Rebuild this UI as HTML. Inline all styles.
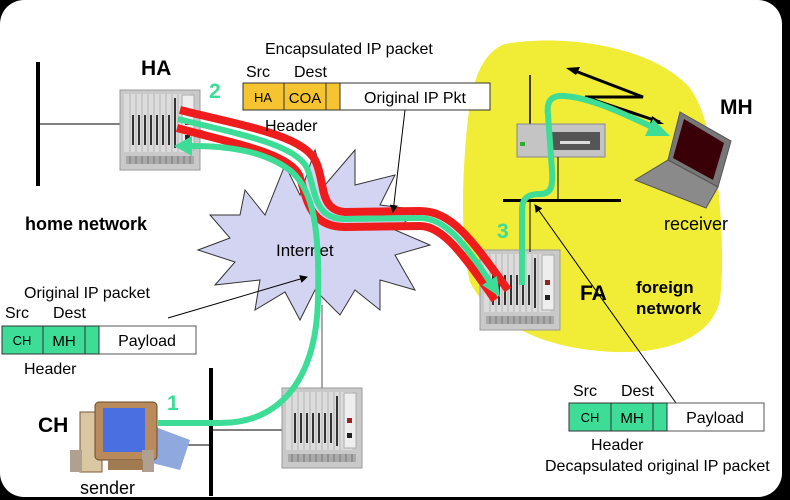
<!DOCTYPE html>
<html><head><meta charset="utf-8"><style>
html,body{margin:0;padding:0;background:#000;width:790px;height:500px;overflow:hidden}
svg{display:block}
text{font-family:"Liberation Sans",sans-serif}
</style></head><body>
<svg width="790" height="500" viewBox="0 0 790 500" xmlns="http://www.w3.org/2000/svg">
<defs>
<g id="rt">
<rect x="0" y="0" width="80" height="80" fill="#c9c9c9" stroke="#9a9a9a"/>
<rect x="4" y="4" width="66" height="58" fill="#dcdcdc"/>
<g stroke="#b5b5b5" stroke-width="1">
<line x1="10" y1="4" x2="10" y2="62"/><line x1="16" y1="4" x2="16" y2="62"/><line x1="22" y1="4" x2="22" y2="62"/><line x1="28" y1="4" x2="28" y2="62"/><line x1="34" y1="4" x2="34" y2="62"/><line x1="40" y1="4" x2="40" y2="62"/><line x1="46" y1="4" x2="46" y2="62"/><line x1="52" y1="4" x2="52" y2="62"/><line x1="58" y1="4" x2="58" y2="62"/>
</g>
<g stroke="#333" stroke-width="2">
<line x1="13" y1="25" x2="13" y2="55"/><line x1="19" y1="25" x2="19" y2="55"/><line x1="25" y1="25" x2="25" y2="55"/><line x1="31" y1="25" x2="31" y2="55"/><line x1="37" y1="25" x2="37" y2="55"/><line x1="43" y1="25" x2="43" y2="55"/><line x1="49" y1="25" x2="49" y2="55"/><line x1="55" y1="8" x2="55" y2="58"/>
</g>
<rect x="62" y="5" width="12" height="55" fill="#eee" stroke="#aaa"/>
<rect x="65" y="30" width="5" height="5" fill="#922"/>
<rect x="65" y="45" width="5" height="5" fill="#222"/>
<rect x="6" y="66" width="68" height="8" fill="#aaa"/>
<g stroke="#777"><line x1="10" y1="66" x2="10" y2="74"/><line x1="16" y1="66" x2="16" y2="74"/><line x1="22" y1="66" x2="22" y2="74"/><line x1="28" y1="66" x2="28" y2="74"/><line x1="34" y1="66" x2="34" y2="74"/><line x1="40" y1="66" x2="40" y2="74"/><line x1="46" y1="66" x2="46" y2="74"/><line x1="52" y1="66" x2="52" y2="74"/><line x1="58" y1="66" x2="58" y2="74"/><line x1="64" y1="66" x2="64" y2="74"/><line x1="70" y1="66" x2="70" y2="74"/></g>
</g>
<marker id="ar" markerWidth="8" markerHeight="8" refX="7" refY="4" orient="auto" markerUnits="userSpaceOnUse"><path d="M0,0 L8,4 L0,8 Z" fill="#000"/></marker>
</defs>
<rect x="0" y="0" width="782" height="497" rx="24" fill="#fff"/>

<path d="M505,44 C560,34 650,44 690,88 C720,130 726,250 720,300 C710,345 650,356 600,351 C540,346 490,322 470,282 C458,232 464,150 469,110 C474,70 488,50 505,44 Z" fill="#f1ec35"/>

<polygon points="245,190 265,215 285,165 300,195 315,150 325,185 355,150 355,185 395,175 380,205 420,210 395,230 430,245 395,255 415,290 380,280 380,310 355,290 340,315 315,290 300,320 285,292 255,310 260,280 215,285 235,262 198,250 230,238 210,215 240,215" fill="#d3d3f2" stroke="#333" stroke-width="1"/>
<text x="276" y="256" font-size="17" fill="#000">Internet</text>

<rect x="36" y="62" width="4" height="124" fill="#000"/>
<line x1="38" y1="124" x2="122" y2="124" stroke="#000" stroke-width="1"/>
<use href="#rt" x="120" y="90"/>
<line x1="200" y1="130" x2="290" y2="165" stroke="#555" stroke-width="1"/>
<text x="141" y="75" font-size="21" font-weight="bold">HA</text>
<text x="25" y="230" font-size="18" font-weight="bold">home network</text>

<rect x="209" y="368" width="4" height="128" fill="#000"/>
<line x1="150" y1="445" x2="211" y2="445" stroke="#000"/>
<line x1="211" y1="430" x2="284" y2="430" stroke="#000"/>
<use href="#rt" x="282" y="388"/>
<line x1="322" y1="388" x2="322" y2="305" stroke="#555"/>
<polygon points="150,425 190,440 180,470 140,460" fill="#8fa8dd"/>
<rect x="80" y="412" width="22" height="60" fill="#d9c6a3" stroke="#7a5a3a"/>
<rect x="95" y="402" width="62" height="58" rx="4" fill="#b88a5c" stroke="#6a4a2a"/>
<rect x="103" y="408" width="42" height="44" fill="#4a6fe0"/>
<rect x="70" y="450" width="12" height="22" fill="#b0a090"/>
<rect x="142" y="450" width="12" height="22" fill="#b0a090"/>
<rect x="108" y="460" width="35" height="10" fill="#a07a50"/>
<text x="38" y="432" font-size="21" font-weight="bold">CH</text>
<text x="80" y="494" font-size="18">sender</text>

<use href="#rt" x="480" y="250"/>
<text x="580" y="300" font-size="21" font-weight="bold">FA</text>
<text x="636" y="293" font-size="17" font-weight="bold">foreign</text>
<text x="636" y="314" font-size="17" font-weight="bold">network</text>
<line x1="530" y1="75" x2="530" y2="125" stroke="#000" stroke-width="1.5"/>
<rect x="517" y="124" width="88" height="33" fill="#c4c4c4" stroke="#888"/>
<rect x="550" y="132" width="50" height="18" fill="#555"/>
<rect x="560" y="141" width="30" height="3" fill="#ddd"/>
<rect x="520" y="142" width="5" height="4" fill="#3a3"/>
<line x1="558" y1="157" x2="558" y2="200" stroke="#000"/>
<rect x="503" y="199" width="118" height="3" fill="#000"/>
<line x1="530" y1="200" x2="530" y2="252" stroke="#000"/>
<polyline points="570,69 643,97 585,97 660,122" fill="none" stroke="#000" stroke-width="3"/>
<path d="M566,68 L580,67 L576,75 Z" fill="#000"/>
<path d="M664,124 L652,116 L650,124 Z" fill="#000"/>
<polygon points="680,112 731,141 718,187 668,160" fill="#777" stroke="#555"/>
<polygon points="684,119 724,143 713,180 673,158" fill="#3a0008"/>
<polygon points="668,160 718,187 706,208 635,180" fill="#8a8a8a" stroke="#555"/>
<text x="720" y="114" font-size="21" font-weight="bold">MH</text>
<text x="664" y="230" font-size="18">receiver</text>

<path d="M180,110 C240,125 302,135 315,160 C326,182 318,210 345,212 L420,211 C452,211 472,240 508,290" fill="none" stroke="#ee1c1c" stroke-width="8"/>
<path d="M177,128 C232,143 288,153 299,175 C307,197 308,227 345,227 L420,226 C442,226 462,252 495,300" fill="none" stroke="#ee1c1c" stroke-width="8"/>
<path d="M178,119 C238,134 295,144 307,168 C316,190 313,219 345,219 L420,218 C446,218 466,245 490,282" fill="none" stroke="#3ddc97" stroke-width="6"/>
<path d="M500,297 L482,285 L497,276 Z" fill="#3ddc97"/>
<path d="M158,423 L220,423 C280,423 316,380 318,300 C320,225 312,190 292,172 C265,150 225,146 192,146" fill="none" stroke="#3ddc97" stroke-width="6"/>
<path d="M174,146 L192,136 L192,156 Z" fill="#3ddc97"/>
<path d="M522,285 L522,210 C522,198 528,194 540,194 C552,194 553,185 552,170 L548,115 C546,100 552,95 565,96 C590,98 620,112 650,126" fill="none" stroke="#3ddc97" stroke-width="6"/>
<path d="M670,136 L645,136 L653,119 Z" fill="#3ddc97"/>

<text x="209" y="98" font-size="21" font-weight="bold" fill="#3ddc97">2</text>
<text x="167" y="410" font-size="21" font-weight="bold" fill="#3ddc97">1</text>
<text x="497" y="238" font-size="21" font-weight="bold" fill="#3ddc97">3</text>

<text x="265" y="54" font-size="16">Encapsulated IP packet</text>
<text x="246" y="77" font-size="16">Src</text>
<text x="294" y="77" font-size="16">Dest</text>
<rect x="243" y="83" width="247" height="27" fill="#fff" stroke="#333"/>
<rect x="243" y="83" width="97" height="27" fill="#f6c430" stroke="#333"/>
<line x1="284" y1="83" x2="284" y2="110" stroke="#333"/>
<line x1="326" y1="83" x2="326" y2="110" stroke="#333"/>
<text x="263" y="102" font-size="13" text-anchor="middle">HA</text>
<text x="305" y="103" font-size="15" text-anchor="middle">COA</text>
<text x="415" y="103" font-size="16" text-anchor="middle">Original IP Pkt</text>
<text x="265" y="131" font-size="16">Header</text>
<line x1="405" y1="110" x2="393" y2="212" stroke="#000" marker-end="url(#ar)"/>

<text x="24" y="298" font-size="16">Original IP packet</text>
<text x="5" y="318" font-size="16">Src</text>
<text x="53" y="318" font-size="16">Dest</text>
<rect x="2" y="326" width="194" height="28" fill="#fff" stroke="#555"/>
<rect x="2" y="326" width="97" height="28" fill="#3ddc97" stroke="#333"/>
<line x1="43" y1="326" x2="43" y2="354" stroke="#333"/>
<line x1="85" y1="326" x2="85" y2="354" stroke="#333"/>
<text x="22" y="345" font-size="13" text-anchor="middle">CH</text>
<text x="64" y="346" font-size="15" text-anchor="middle">MH</text>
<text x="147" y="346" font-size="16" text-anchor="middle">Payload</text>
<text x="24" y="374" font-size="16">Header</text>
<line x1="168" y1="318" x2="307" y2="277" stroke="#000" marker-end="url(#ar)"/>

<line x1="676" y1="403" x2="535" y2="205" stroke="#000" marker-end="url(#ar)"/>
<text x="573" y="396" font-size="16">Src</text>
<text x="621" y="396" font-size="16">Dest</text>
<rect x="569" y="403" width="195" height="28" fill="#fff" stroke="#555"/>
<rect x="569" y="403" width="98" height="28" fill="#3ddc97" stroke="#333"/>
<line x1="611" y1="403" x2="611" y2="431" stroke="#333"/>
<line x1="653" y1="403" x2="653" y2="431" stroke="#333"/>
<text x="590" y="422" font-size="13" text-anchor="middle">CH</text>
<text x="632" y="423" font-size="15" text-anchor="middle">MH</text>
<text x="715" y="423" font-size="16" text-anchor="middle">Payload</text>
<text x="591" y="450" font-size="16">Header</text>
<text x="545" y="471" font-size="16">Decapsulated original IP packet</text>
</svg>
</body></html>
